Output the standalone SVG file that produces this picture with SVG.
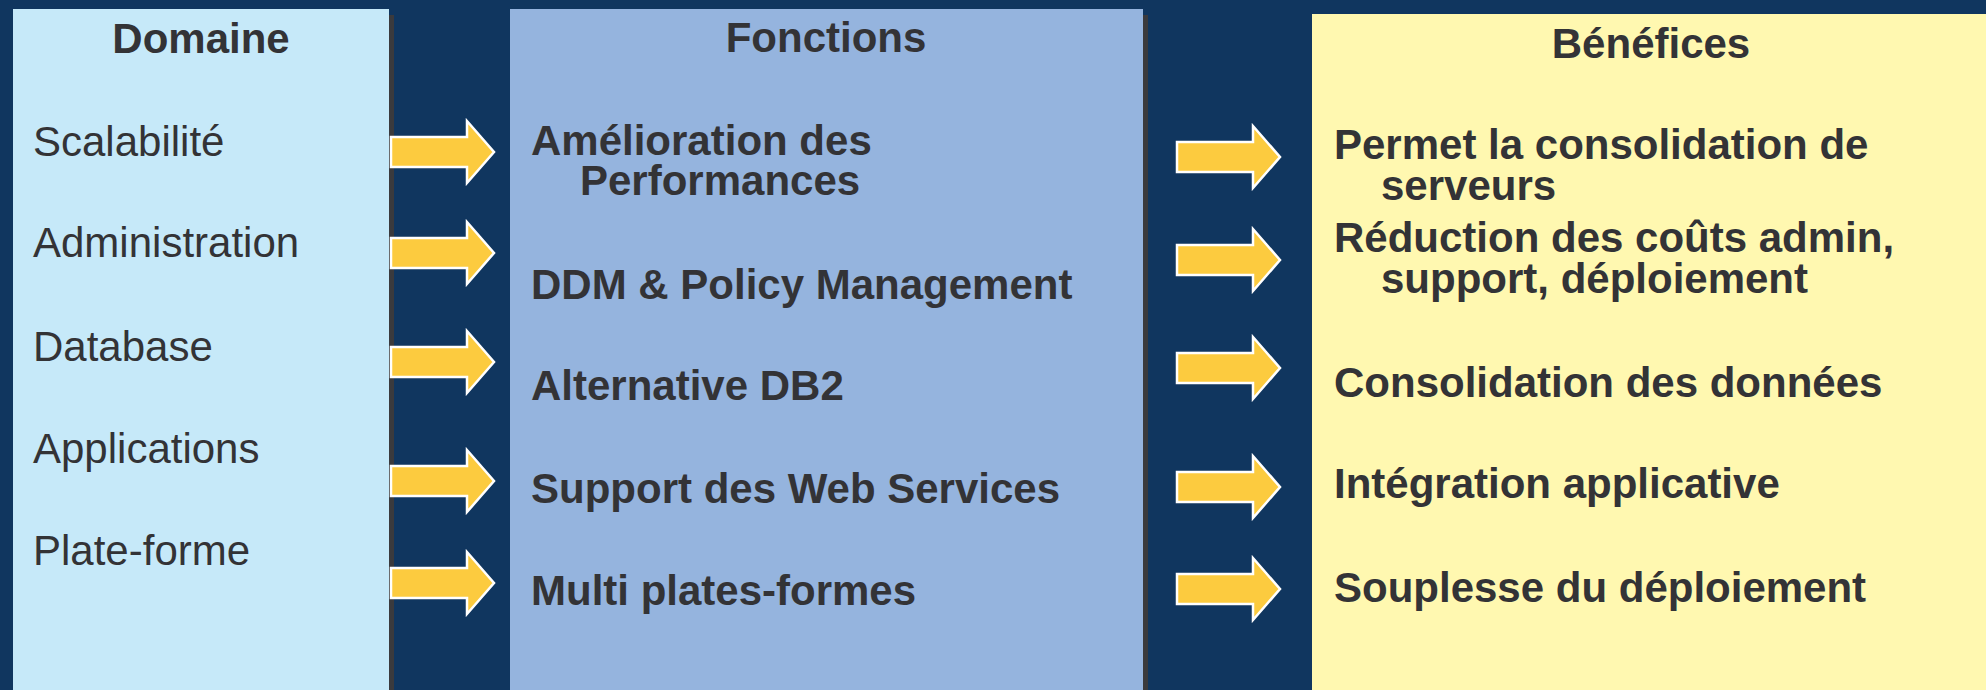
<svg xmlns="http://www.w3.org/2000/svg" width="1986" height="690" viewBox="0 0 1986 690">
<style>
.bg{fill:#10365f}
.shadow{fill:#3a3a3d}
.t{font-family:"Liberation Sans",Arial,sans-serif;font-size:42px;fill:#333336}
.b{font-weight:bold}
.arrow{fill:#fccb3f;stroke:#ffffff;stroke-width:2.5;stroke-linejoin:miter}
</style>
<defs>
<path id="arr" d="M0,-15 H76 V-31 L103,0 L76,31 V15 H0 Z"/>
</defs>
<rect class="bg" x="0" y="0" width="1986" height="690"/>
<g id="domaine">
<rect class="shadow" x="389" y="15" width="5" height="675"/>
<rect x="13" y="9" width="376" height="681" fill="#c6e9f9"/>
<text class="t b" x="201" y="53" text-anchor="middle">Domaine</text>
<text class="t" x="33" y="156">Scalabilité</text>
<text class="t" x="33" y="257">Administration</text>
<text class="t" x="33" y="361">Database</text>
<text class="t" x="33" y="463">Applications</text>
<text class="t" x="33" y="565">Plate-forme</text>
</g>
<g id="fonctions">
<rect class="shadow" x="1143" y="15" width="5" height="675"/>
<rect x="510" y="9" width="633" height="681" fill="#95b4de"/>
<text class="t b" x="826" y="52" text-anchor="middle">Fonctions</text>
<text class="t b" x="531" y="155">Amélioration des<tspan x="580" y="195">Performances</tspan></text>
<text class="t b" x="531" y="299">DDM &amp; Policy Management</text>
<text class="t b" x="531" y="400">Alternative DB2</text>
<text class="t b" x="531" y="503">Support des Web Services</text>
<text class="t b" x="531" y="605">Multi plates-formes</text>
</g>
<g id="benefices">
<rect x="1312" y="14" width="674" height="676" fill="#fff8b0"/>
<text class="t b" x="1651" y="58" text-anchor="middle">Bénéfices</text>
<text class="t b" x="1334" y="159">Permet la consolidation de<tspan x="1381" y="200">serveurs</tspan></text>
<text class="t b" x="1334" y="252">Réduction des coûts admin,<tspan x="1381" y="293">support, déploiement</tspan></text>
<text class="t b" x="1334" y="397">Consolidation des données</text>
<text class="t b" x="1334" y="498">Intégration applicative</text>
<text class="t b" x="1334" y="602">Souplesse du déploiement</text>
</g>
<g id="connectors">
<use href="#arr" class="arrow" x="391" y="152"/>
<use href="#arr" class="arrow" x="391" y="253"/>
<use href="#arr" class="arrow" x="391" y="362"/>
<use href="#arr" class="arrow" x="391" y="481"/>
<use href="#arr" class="arrow" x="391" y="583"/>
<use href="#arr" class="arrow" x="1177" y="157"/>
<use href="#arr" class="arrow" x="1177" y="260"/>
<use href="#arr" class="arrow" x="1177" y="368"/>
<use href="#arr" class="arrow" x="1177" y="487"/>
<use href="#arr" class="arrow" x="1177" y="589"/>
</g>
</svg>
